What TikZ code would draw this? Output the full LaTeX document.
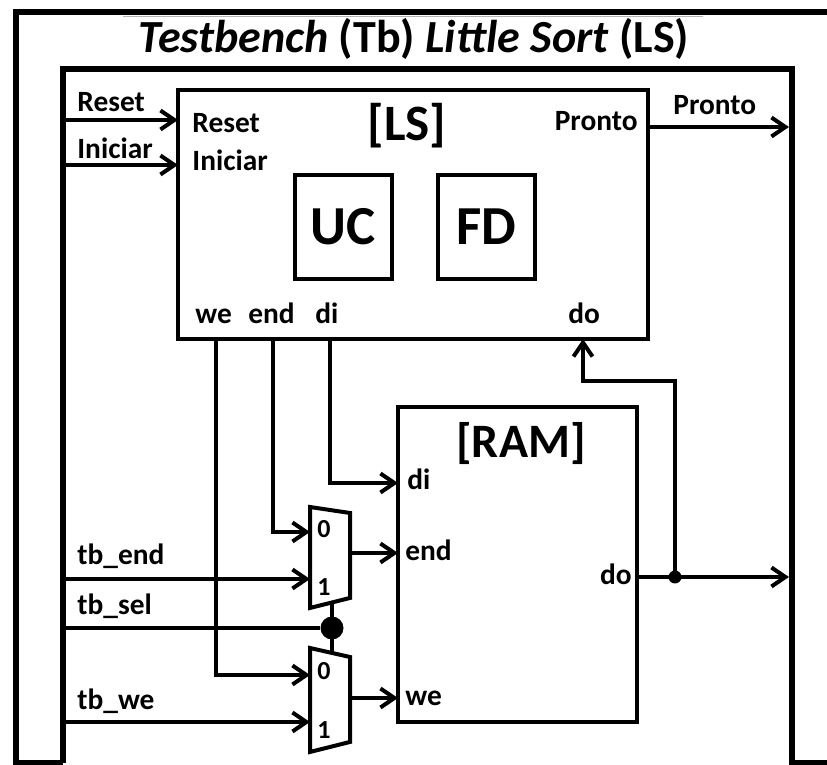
\documentclass[tikz,border=0pt]{standalone}
\usepackage{fontspec}
\setmainfont{Carlito}
\usetikzlibrary{arrows.meta}
\begin{document}
\begin{tikzpicture}[x=0.5pt,y=-0.5pt,
  wire/.style={line width=2pt},
  sig/.style={line width=2pt,-{Straight Barb[length=7pt,width=9.5pt]}},
  frame/.style={line width=3.2pt},
  box/.style={draw,line width=2pt,inner sep=0pt},
  lbl/.style={inner sep=0pt,anchor=base west,font=\fontsize{14.7}{17}\selectfont\bfseries},
  lble/.style={lbl,anchor=base east},
  big/.style={inner sep=0pt,anchor=base,font=\fontsize{25.5}{30}\selectfont\bfseries},
  digit/.style={inner sep=0pt,font=\fontsize{13}{15}\selectfont\bfseries},
  dot/.style={circle,fill=black,inner sep=0pt}
]
\useasboundingbox (0,0) rectangle (827,765);

% frames
\draw[frame] (63,763.5) -- (16,763.5) -- (16,12) -- (835,12);
\draw[frame] (63,763.5) -- (63,69) -- (792,69) -- (792,763.5) -- (835,763.5);
\draw[gray!60,line width=0.6pt] (123,16.5) -- (703,16.5);

% title
\node[inner sep=0pt,anchor=base,font=\fontsize{23}{27}\selectfont\bfseries] (title) at (414,53)
  {\textit{Testbench} (Tb) \textit{Little Sort} (LS)};

% LS block
\node[box,minimum width=235pt,minimum height=124.5pt] (LS) at (413,214.5) {};
\node[big] (LStitle) at (407,141) {[LS]};
\node[box,minimum width=48.5pt,minimum height=52pt,font=\fontsize{27.5}{32}\selectfont\bfseries] (UC) at (343.5,227) {UC};
\node[box,minimum width=48.5pt,minimum height=52pt,font=\fontsize{27.5}{32}\selectfont\bfseries] (FD) at (486.5,227) {FD};

\node[lbl] (lsReset) at (192,133) {Reset};
\node[lbl] (lsIniciar) at (192,171) {Iniciar};
\node[lble] (lsPronto) at (638,131) {Pronto};
\node[lbl] (lsWe) at (195,324) {we};
\node[lbl] (lsEnd) at (248,324) {end};
\node[lbl] (lsDi) at (315,324) {di};
\node[lbl] (lsDo) at (568,324) {do};

% RAM block
\node[box,minimum width=119.5pt,minimum height=157.5pt] (RAM) at (517.5,564.5) {};
\node[big,font=\fontsize{24}{28}\selectfont\bfseries] (RAMtitle) at (521,458) {[RAM]};
\node[lbl] (ramDi) at (407,490) {di};
\node[lbl] (ramEnd) at (405,561) {end};
\node[lbl] (ramWe) at (405,706) {we};
\node[lble] (ramDo) at (632,585) {do};

% external labels
\node[lbl] (tReset) at (77,112) {Reset};
\node[lbl] (tIniciar) at (77,159) {Iniciar};
\node[lbl] (tPronto) at (673,115) {Pronto};
\node[lbl] (tEnd) at (77,565) {tb\_end};
\node[lbl] (tSel) at (77,615) {tb\_sel};
\node[lbl] (tWe) at (77,710) {tb\_we};

% muxes
\coordinate (m1tl) at (310,507); \coordinate (m1tr) at (350,513);
\coordinate (m1br) at (350,598); \coordinate (m1bl) at (310,608);
\coordinate (m2tl) at (310,648); \coordinate (m2tr) at (350,657);
\coordinate (m2br) at (350,742); \coordinate (m2bl) at (310,752);
\draw[wire,line join=miter] (m1tl) -- (m1tr) -- (m1br) -- (m1bl) -- cycle;
\draw[wire,line join=miter] (m2tl) -- (m2tr) -- (m2br) -- (m2bl) -- cycle;
\node[digit] (m1zero) at (324,529) {0};
\node[digit] (m1one) at (324,587) {1};
\node[digit] (m2zero) at (324,671) {0};
\node[digit] (m2one) at (324,730) {1};

% ports
\coordinate (inReset) at (63,120);   \coordinate (pReset) at (178,120);
\coordinate (inIniciar) at (63,165); \coordinate (pIniciar) at (178,165);
\coordinate (pPronto) at (648,127);  \coordinate (outPronto) at (789,127);
\coordinate (pWe) at (216,339);  \coordinate (m2in0) at (310,675);
\coordinate (pEnd) at (273,339); \coordinate (m1in0) at (310,532);
\coordinate (pDi) at (330,339);  \coordinate (ramDiIn) at (398,483);
\coordinate (inEnd) at (63,579); \coordinate (m1in1) at (310,579);
\coordinate (inWe) at (63,722);  \coordinate (m2in1) at (310,722);
\coordinate (inSel) at (63,628);
\coordinate (m1out) at (350,553); \coordinate (ramEndIn) at (398,553);
\coordinate (m2out) at (350,698); \coordinate (ramWeIn) at (398,698);
\coordinate (m1sel) at (332,602.6); \coordinate (m2sel) at (332,653);
\coordinate (ramDoOut) at (637,577); \coordinate (outDo) at (789,577);
\coordinate (pDo) at (583,339);

% connectors
\draw[sig] (inReset) -- (pReset);
\draw[sig] (inIniciar) -- (pIniciar);
\draw[sig] (pPronto) -- (outPronto);
\draw[sig] (pWe) |- (m2in0);
\draw[sig] (pEnd) |- (m1in0);
\draw[sig] (pDi) |- (ramDiIn);
\draw[sig] (inEnd) -- (m1in1);
\draw[sig] (inWe) -- (m2in1);
\draw[sig] (m1out) -- (ramEndIn);
\draw[sig] (m2out) -- (ramWeIn);
\draw[wire] (m1sel) -- (m2sel);
\node[dot,minimum size=11.5pt] (selDot) at (332,628) {};
\draw[wire] (inSel) -- (selDot);
\draw[sig] (ramDoOut) -- (outDo);
\node[dot,minimum size=6.5pt] (doDot) at (675,577) {};
\draw[sig] (doDot.center) |- (583,381) -- (pDo);
\end{tikzpicture}
\end{document}
